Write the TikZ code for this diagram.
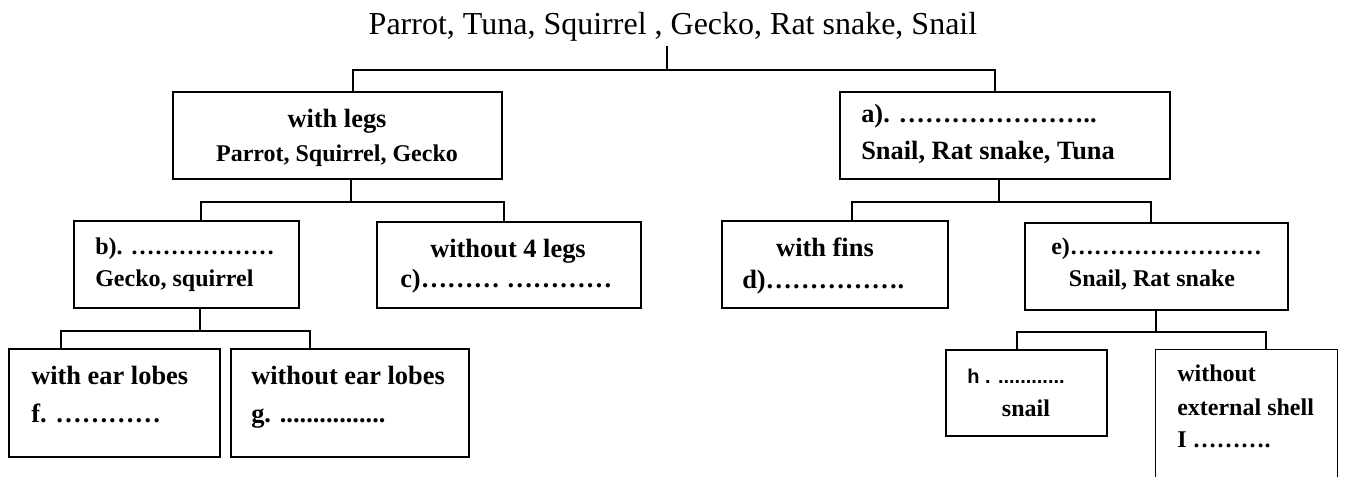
\documentclass[tikz,border=0pt]{standalone}
\usepackage{fontspec}
\setmainfont{Liberation Serif}
\newfontfamily\labelsans{Liberation Sans}
% one ellipsis glyph, used to build the dotted blanks
\newcommand\elps{…}
\begin{document}
\begin{tikzpicture}[x=0.75pt,y=-0.75pt,
  box/.style={draw, line width=1.1pt, inner sep=0pt},
  frame/.style={inner sep=0pt},
  link/.style={draw, line width=1.5pt},
  big/.style={font=\bfseries\fontsize{19.8}{22}\selectfont, inner sep=0pt},
  small/.style={font=\bfseries\fontsize{18}{20}\selectfont, inner sep=0pt},
  tag/.style={font=\labelsans\bfseries\fontsize{15}{17}\selectfont, inner sep=0pt}]
\useasboundingbox (0,0) rectangle (1346,477);
\clip (0,0) rectangle (1346,477);

% title
\node[font=\fontsize{24}{28}\selectfont, anchor=base, inner sep=0pt] (title) at (673,35)
  {Parrot, Tuna, Squirrel , Gecko, Rat snake, Snail};

% boxes
\node[box, minimum width=246.75pt, minimum height=65.25pt] (legs)  at (337.5,135.5) {};
\node[box, minimum width=247.5pt,  minimum height=65.25pt] (anode) at (1005,135.5) {};
\node[box, minimum width=168.75pt, minimum height=65.25pt] (bnode) at (186.5,264.5) {};
\node[box, minimum width=198pt,    minimum height=64.5pt]  (cnode) at (509,265) {};
\node[box, minimum width=169.5pt,  minimum height=65.25pt] (dnode) at (835,264.5) {};
\node[box, minimum width=197.25pt, minimum height=65.25pt] (enode) at (1156.5,266.5) {};
\node[box, minimum width=158.25pt, minimum height=81pt]    (fnode) at (114.5,403) {};
\node[box, minimum width=178.5pt,  minimum height=81pt]    (gnode) at (350,403) {};
\node[box, minimum width=120.75pt, minimum height=64.5pt]  (hnode) at (1026.5,393) {};
\node[frame, minimum width=135.75pt, minimum height=105pt] (inode) at (1246.5,420) {};
\draw[line width=1.1pt] (inode.south west) -- (inode.north west) -- (inode.north east) -- (inode.south east);

% box texts
\node[big, anchor=base] (legsA) at (337,128) {with legs};
\node[small, anchor=base] (legsB) at (337,162) {Parrot, Squirrel, Gecko};
\node[big, anchor=base west] (aA) at (861,123) {a). \elps\elps\elps\elps\elps\elps\elps..};
\node[big, anchor=base west] (aB) at (861,160) {Snail, Rat snake, Tuna};
\node[small, anchor=base west] (bA) at (95,255) {b). \elps\elps\elps\elps\elps\elps};
\node[small, anchor=base west] (bB) at (95,287) {Gecko, squirrel};
\node[big, anchor=base] (cA) at (508,258) {without 4 legs};
\node[big, anchor=base west] (cB) at (400,288) {c)\elps\elps\elps{} \elps\elps\elps\elps};
\node[big, anchor=base] (dA) at (825,257) {with fins};
\node[big, anchor=base west] (dB) at (742,289) {d)\elps\elps\elps\elps\elps.};
\node[small, anchor=base west] (eA) at (1051,255) {e)\elps\elps\elps\elps\elps\elps\elps\elps};
\node[small, anchor=base] (eB) at (1152,287) {Snail, Rat snake};
\node[big, anchor=base west] (fA) at (31,384) {with ear lobes};
\node[big, anchor=base west] (fB) at (31,422) {f. \elps\elps\elps\elps};
\node[big, anchor=base west] (gA) at (251,384) {without ear lobes};
\node[big, anchor=base west] (gB) at (251,422) {g. ................};
\node[tag, anchor=base west] (hA) at (967,383) {h . ............};
\node[small, anchor=base] (hB) at (1026,416) {snail};
\node[small, anchor=base west] (iA) at (1177,382) {without};
\node[small, anchor=base west] (iB) at (1177,415) {external shell};
\node[small, anchor=base west] (iC) at (1177,447) {I \elps\elps\elps.};

% branch points
\coordinate (j0) at (667,70);
\coordinate (jL) at (353,70);
\coordinate (jR) at (995,70);
\coordinate (k0) at (351,202);
\coordinate (kL) at (201,202);
\coordinate (kR) at (504,202);
\coordinate (m0) at (999,202);
\coordinate (mL) at (852,202);
\coordinate (mR) at (1151,202);
\coordinate (n0) at (200,331);
\coordinate (nL) at (61,331);
\coordinate (nR) at (310,331);
\coordinate (p0) at (1156,332);
\coordinate (pL) at (1017,332);
\coordinate (pR) at (1266,332);

% connectors
\draw[link, shorten <=3pt] (j0 |- title.south) -- (j0);
\draw[link] (jL |- legs.north) -- (jL) -- (jR) -- (jR |- anode.north);
\draw[link] (k0 |- legs.south) -- (k0);
\draw[link] (kL |- bnode.north) -- (kL) -- (kR) -- (kR |- cnode.north);
\draw[link] (m0 |- anode.south) -- (m0);
\draw[link] (mL |- dnode.north) -- (mL) -- (mR) -- (mR |- enode.north);
\draw[link] (n0 |- bnode.south) -- (n0);
\draw[link] (nL |- fnode.north) -- (nL) -- (nR) -- (nR |- gnode.north);
\draw[link] (p0 |- enode.south) -- (p0);
\draw[link] (pL |- hnode.north) -- (pL) -- (pR) -- (pR |- inode.north);
\end{tikzpicture}
\end{document}
